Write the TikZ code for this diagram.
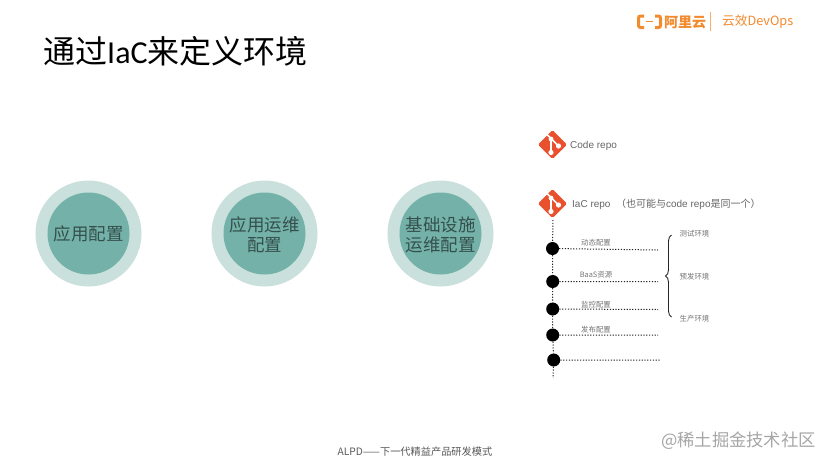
\documentclass[tikz,border=0pt]{standalone}
\usepackage{fontspec}
\setmainfont{Liberation Sans}
\newfontfamily\cjk{Noto Sans CJK SC}
\newfontfamily\carl{Carlito}
\usetikzlibrary{decorations.pathreplacing}
\definecolor{ringc}{HTML}{C9E0DC}
\definecolor{corec}{HTML}{74B1A9}
\definecolor{gitc}{HTML}{E9502E}
\definecolor{alic}{HTML}{F28A2E}
\tikzset{
  outerc/.style={circle,fill=ringc,minimum size=106pt,inner sep=0pt},
  innerc/.style={circle,fill=corec,minimum size=82pt,inner sep=0pt},
  ctext/.style={align=center,inner sep=0pt,text=black!55!corec,font=\cjk\fontsize{17.5}{20}\selectfont},
  dotn/.style={circle,fill=black,minimum size=13pt,inner sep=0pt},
  dots/.style={dash pattern=on 1.2pt off 1.6pt,line width=1pt,black!85},
  tiny/.style={font=\cjk\fontsize{7.4}{9}\selectfont,text=black!55},
  repo/.style={font=\fontsize{10}{12}\selectfont,text=black!60,anchor=west,inner sep=0pt},
  gitd/.pic={
    \fill[gitc,rounded corners=1.5pt] (0,-14.5)--(14.5,0)--(0,14.5)--(-14.5,0)--cycle;
    \draw[white,line width=1.7pt] (-6.5,-11)--(-1.5,-6)--(6,1.5);
    \draw[white,line width=1.7pt] (-1.5,-6)--(-1.5,8);
    \fill[white] (-1.5,-5.5) circle (2.4pt) (-1.5,8) circle (2.6pt) (6,1.5) circle (2.6pt);
  }
}
\begin{document}
\begin{tikzpicture}[x=1pt,y=-1pt]
\useasboundingbox[fill=white] (0,0) rectangle (831,467);
\node[anchor=west,inner sep=0pt,font=\cjk\fontsize{32}{38}\selectfont] (title) at (43,51.5) {通过{\carl IaC}来定义环境};
% logo
\node[anchor=west,font=\cjk\bfseries\fontsize{14}{17}\selectfont,text=alic,inner sep=0pt] (ali) at (664,22) {阿里云};
\node[anchor=west,font=\cjk\fontsize{12.7}{16}\selectfont,text=alic,inner sep=0pt] (yx) at (722,22) {云效DevOps};
\draw[alic,line width=3pt,rounded corners=2pt] (644,16)--(638.5,16)--(638.5,27.5)--(644,27.5);
\draw[alic,line width=3pt,rounded corners=2pt] (655,16)--(660.5,16)--(660.5,27.5)--(655,27.5);
\draw[alic,line width=1.5pt] (646,21.5)--(653,21.5);
\draw[alic!70,line width=0.7pt] (710,12)--(710,31);
% circles
\node[outerc] (o1) at (88.5,233.5) {};
\node[outerc] (o2) at (264.5,233.5) {};
\node[outerc] (o3) at (440.5,233.5) {};
\node[innerc] (i1) at (88.5,233.5) {};
\node[innerc] (i2) at (264.5,233.5) {};
\node[innerc] (i3) at (440.5,233.5) {};
\node[ctext] (c1) at (88.5,234) {应用配置};
\node[ctext] (c2) at (264.5,234.5) {应用运维\\配置};
\node[ctext] (c3) at (440.5,234.5) {基础设施\\运维配置};
% repos
\pic at (552.5,144.5) {gitd};
\pic at (552.5,203.5) {gitd};
\node[repo] (r1) at (570,145.5) {Code repo};
\node[repo] (r2) at (572,204.5) {IaC repo\ \ {\cjk （也可能与}code repo{\cjk 是同一个）}};
% timeline
\coordinate (top) at (553,220);
\coordinate (bot) at (553,378);
\node[dotn] (d1) at (552.5,248.5) {};
\node[dotn] (d2) at (552.7,281.5) {};
\node[dotn] (d3) at (552.7,309) {};
\node[dotn] (d4) at (552.7,335) {};
\node[dotn] (d5) at (553.7,360) {};
\draw[dots] (top)--(d1)--(d2)--(d3)--(d4)--(d5)--(bot);
\coordinate (e1) at (658,250);
\coordinate (e2) at (658,281.5);
\coordinate (e3) at (658,309.5);
\coordinate (e4) at (658,335);
\coordinate (e5) at (660,360);
\draw[dots] (d1)--(e1) (d2)--(e2) (d3)--(e3) (d4)--(e4) (d5)--(e5);
\node[tiny] (l1) at (596,242.5) {动态配置};
\node[tiny] (l2) at (596,274.5) {BaaS资源};
\node[tiny] (l3) at (596,304.5) {监控配置};
\node[tiny] (l4) at (596,329.5) {发布配置};
\coordinate (b1) at (671.5,235);
\coordinate (b2) at (671.5,317);
\draw[line width=0.9pt,black!85,decorate,decoration={brace,amplitude=6pt,mirror}] (b1)--(b2);
\node[tiny] (t1) at (694.5,233.5) {测试环境};
\node[tiny] (t2) at (694.5,276.5) {预发环境};
\node[tiny] (t3) at (694.5,318.5) {生产环境};
% footer
\node[font=\cjk\fontsize{10.2}{12}\selectfont,text=black!65] (foot) at (415,452) {ALPD——下一代精益产品研发模式};
\node[anchor=east,font=\cjk\fontsize{17.3}{20}\selectfont,text=black!35,inner sep=0pt] (wm) at (816,441) {@稀土掘金技术社区};
\end{tikzpicture}
\end{document}
